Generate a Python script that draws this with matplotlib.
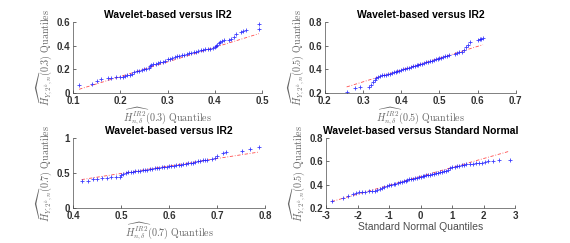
import numpy as np
import matplotlib
matplotlib.use("Agg")
import matplotlib.pyplot as plt

plt.rcParams['mathtext.fontset'] = 'cm'
plt.rcParams['font.family'] = ['Liberation Sans', 'DejaVu Sans']

# ---- data ----
p1_x = [0.113, 0.14, 0.15, 0.16, 0.175, 0.18, 0.19, 0.2, 0.205, 0.21, 0.215, 0.22, 0.225, 0.23, 0.235, 0.24,
        0.245, 0.25, 0.255, 0.26, 0.262, 0.265, 0.27, 0.275, 0.28, 0.285, 0.29, 0.295, 0.3, 0.305, 0.31, 0.315,
        0.32, 0.325, 0.33, 0.335, 0.34, 0.345, 0.35, 0.355, 0.36, 0.365, 0.37, 0.375, 0.38, 0.385, 0.39, 0.395,
        0.4, 0.402, 0.405, 0.408, 0.41, 0.415, 0.42, 0.43, 0.435, 0.44, 0.445, 0.455, 0.46, 0.465, 0.493, 0.493]
p1_y = [0.07, 0.08, 0.10, 0.12, 0.13, 0.13, 0.135, 0.14, 0.14, 0.145, 0.15, 0.155, 0.165, 0.175, 0.185, 0.19,
        0.195, 0.20, 0.205, 0.215, 0.225, 0.235, 0.245, 0.25, 0.255, 0.26, 0.265, 0.275, 0.285, 0.29, 0.3, 0.305,
        0.31, 0.315, 0.32, 0.325, 0.33, 0.335, 0.34, 0.345, 0.35, 0.355, 0.36, 0.365, 0.37, 0.375, 0.375, 0.38,
        0.39, 0.4, 0.41, 0.42, 0.43, 0.44, 0.45, 0.45, 0.46, 0.47, 0.50, 0.52, 0.525, 0.53, 0.54, 0.58]

p2_x = [0.257, 0.278, 0.292, 0.315, 0.32, 0.325, 0.33, 0.335, 0.34, 0.345, 0.35, 0.355, 0.36, 0.365, 0.37,
        0.375, 0.38, 0.385, 0.39, 0.395, 0.40, 0.405, 0.41, 0.415, 0.42, 0.425, 0.43, 0.435, 0.44, 0.445, 0.45,
        0.455, 0.46, 0.465, 0.47, 0.475, 0.48, 0.485, 0.49, 0.495, 0.50, 0.505, 0.51, 0.515, 0.52, 0.525, 0.54,
        0.545, 0.55, 0.56, 0.565, 0.57, 0.575, 0.58, 0.6, 0.605, 0.61, 0.614]
p2_y = [0.21, 0.245, 0.25, 0.255, 0.27, 0.29, 0.31, 0.33, 0.34, 0.345, 0.35, 0.352, 0.355, 0.36, 0.365,
        0.37, 0.375, 0.38, 0.385, 0.39, 0.395, 0.40, 0.405, 0.41, 0.415, 0.42, 0.425, 0.43, 0.435, 0.44, 0.445,
        0.45, 0.455, 0.46, 0.465, 0.47, 0.475, 0.48, 0.485, 0.49, 0.495, 0.50, 0.505, 0.51, 0.515, 0.52, 0.53,
        0.54, 0.545, 0.55, 0.56, 0.59, 0.61, 0.63, 0.65, 0.655, 0.66, 0.665]

p3_x = [0.418, 0.431, 0.442, 0.45, 0.46, 0.47, 0.48, 0.49, 0.497, 0.50, 0.505, 0.51, 0.515, 0.52, 0.525, 0.53,
        0.535, 0.54, 0.545, 0.55, 0.555, 0.56, 0.565, 0.57, 0.575, 0.58, 0.585, 0.59, 0.595, 0.60, 0.605, 0.61,
        0.615, 0.62, 0.625, 0.63, 0.635, 0.64, 0.645, 0.65, 0.655, 0.66, 0.665, 0.67, 0.675, 0.68, 0.69, 0.695,
        0.70, 0.712, 0.718, 0.752, 0.769, 0.788]
p3_y = [0.385, 0.39, 0.41, 0.42, 0.425, 0.43, 0.44, 0.445, 0.45, 0.47, 0.49, 0.50, 0.51, 0.515, 0.52, 0.525,
        0.53, 0.535, 0.54, 0.545, 0.55, 0.555, 0.56, 0.565, 0.57, 0.575, 0.58, 0.585, 0.59, 0.595, 0.60, 0.605,
        0.61, 0.615, 0.62, 0.63, 0.635, 0.64, 0.645, 0.65, 0.66, 0.665, 0.67, 0.68, 0.685, 0.69, 0.70, 0.72,
        0.75, 0.79, 0.80, 0.82, 0.85, 0.87]

p4_x = [-2.82, -2.47, -2.3, -2.14, -2.05, -1.95, -1.85, -1.75, -1.65, -1.55, -1.45, -1.38, -1.3, -1.22, -1.15,
        -1.08, -1.0, -0.93, -0.86, -0.8, -0.73, -0.67, -0.6, -0.54, -0.48, -0.42, -0.36, -0.3, -0.24, -0.18,
        -0.12, -0.06, 0.0, 0.06, 0.12, 0.18, 0.24, 0.3, 0.36, 0.42, 0.48, 0.54, 0.6, 0.67, 0.73, 0.8, 0.86,
        0.93, 1.0, 1.08, 1.15, 1.22, 1.3, 1.38, 1.45, 1.55, 1.65, 1.75, 1.85, 1.95, 2.05, 2.14, 2.3, 2.47, 2.82]
p4_y = [0.262, 0.283, 0.30, 0.32, 0.33, 0.335, 0.337, 0.34, 0.342, 0.345, 0.348, 0.355, 0.36, 0.37, 0.378,
        0.385, 0.395, 0.40, 0.405, 0.41, 0.415, 0.42, 0.425, 0.43, 0.435, 0.44, 0.445, 0.448, 0.45, 0.455,
        0.46, 0.463, 0.468, 0.472, 0.476, 0.48, 0.483, 0.487, 0.49, 0.494, 0.498, 0.502, 0.506, 0.51, 0.515,
        0.52, 0.53, 0.54, 0.548, 0.553, 0.556, 0.56, 0.565, 0.57, 0.575, 0.578, 0.58, 0.582, 0.585, 0.59,
        0.595, 0.60, 0.605, 0.61, 0.615]

titles = ["Wavelet-based versus IR2", "Wavelet-based versus IR2",
          "Wavelet-based versus IR2", "Wavelet-based versus Standard Normal"]
xlabels = [r"$\widehat{H^{IR2}_{n,\delta}}(0.3)\ \mathrm{Quantiles}$",
           r"$\widehat{H^{IR2}_{n,\delta}}(0.5)\ \mathrm{Quantiles}$",
           r"$\widehat{H^{IR2}_{n,\delta}}(0.7)\ \mathrm{Quantiles}$",
           "Standard Normal Quantiles"]
ylabels = [r"$\widehat{H_{Y,2^{k},n}}(0.3)\ \mathrm{Quantiles}$",
           r"$\widehat{H_{Y,2^{k},n}}(0.5)\ \mathrm{Quantiles}$",
           r"$\widehat{H_{Y,2^{k},n}}(0.7)\ \mathrm{Quantiles}$",
           r"$\widehat{H_{Y,2^{k},n}}(0.5)\ \mathrm{Quantiles}$"]
xlims = [(0.1, 0.5), (0.2, 0.7), (0.4, 0.8), (-3, 3)]
ylims = [(0, 0.6), (0.2, 0.8), (0, 1), (0.2, 0.8)]
xticks = [[0.1, 0.2, 0.3, 0.4, 0.5], [0.2, 0.3, 0.4, 0.5, 0.6, 0.7], [0.4, 0.5, 0.6, 0.7, 0.8],
          [-3, -2, -1, 0, 1, 2, 3]]
yticks = [[0, 0.2, 0.4, 0.6], [0.2, 0.4, 0.6, 0.8], [0, 0.5, 1], [0.2, 0.4, 0.6, 0.8]]
ytick_labels = [["0", "0.2", "0.4", "0.6"], ["0.2", "0.4", "0.6", "0.8"], ["0", "0.5", "1"],
                ["0.2", "0.4", "0.6", "0.8"]]
xtick_labels = [["0.1", "0.2", "0.3", "0.4", "0.5"], ["0.2", "0.3", "0.4", "0.5", "0.6", "0.7"],
                ["0.4", "0.5", "0.6", "0.7", "0.8"], ["-3", "-2", "-1", "0", "1", "2", "3"]]

series = [(p1_x, p1_y), (p2_x, p2_y), (p3_x, p3_y), (p4_x, p4_y)]

fig = plt.figure(figsize=(5.70, 2.43), dpi=100)
positions = [[0.128, 0.617, 0.332, 0.292], [0.570, 0.617, 0.335, 0.292],
             [0.128, 0.144, 0.337, 0.288], [0.572, 0.144, 0.332, 0.288]]

axc = '0.2'
for i, pos in enumerate(positions):
    ax = fig.add_axes(pos)
    x = np.array(series[i][0]); y = np.array(series[i][1])
    # reference line through the quartiles (MATLAB qqplot style)
    qx1, qx3 = np.percentile(x, [25, 75]); qy1, qy3 = np.percentile(y, [25, 75])
    slope = (qy3 - qy1) / (qx3 - qx1)
    xl = np.array([x.min(), x.max()])
    ax.plot(xl, qy1 + slope * (xl - qx1), color='red', ls=(0, (4, 2, 1, 2)), lw=0.6, alpha=0.7)
    ax.plot(x, y, '+', color=(0.1, 0.1, 1.0), ms=3, mew=0.6, alpha=0.85)
    ax.set_xlim(*xlims[i]); ax.set_ylim(*ylims[i])
    ax.set_xticks(xticks[i]); ax.set_xticklabels(xtick_labels[i])
    ax.set_yticks(yticks[i]); ax.set_yticklabels(ytick_labels[i])
    for s in ['top', 'right']:
        ax.spines[s].set_visible(False)
    for s in ['left', 'bottom']:
        ax.spines[s].set_color('0.3'); ax.spines[s].set_linewidth(0.5)
    ax.tick_params(direction='in', length=2, width=0.5, colors=axc, labelsize=7, pad=2)
    for t in ax.get_xticklabels() + ax.get_yticklabels():
        t.set_fontweight('bold')
    ax.set_title(titles[i], fontsize=7.5, fontweight='bold', pad=3)
    if i == 3:
        ax.set_xlabel(xlabels[i], fontsize=7.5, color='0.3', labelpad=1)
    else:
        ax.set_xlabel(xlabels[i], fontsize=7.2, color='0.4', labelpad=0)
    ax.set_ylabel(ylabels[i], fontsize=7.2, color='0.4', labelpad=1)

fig.savefig("out.png", dpi=100)
